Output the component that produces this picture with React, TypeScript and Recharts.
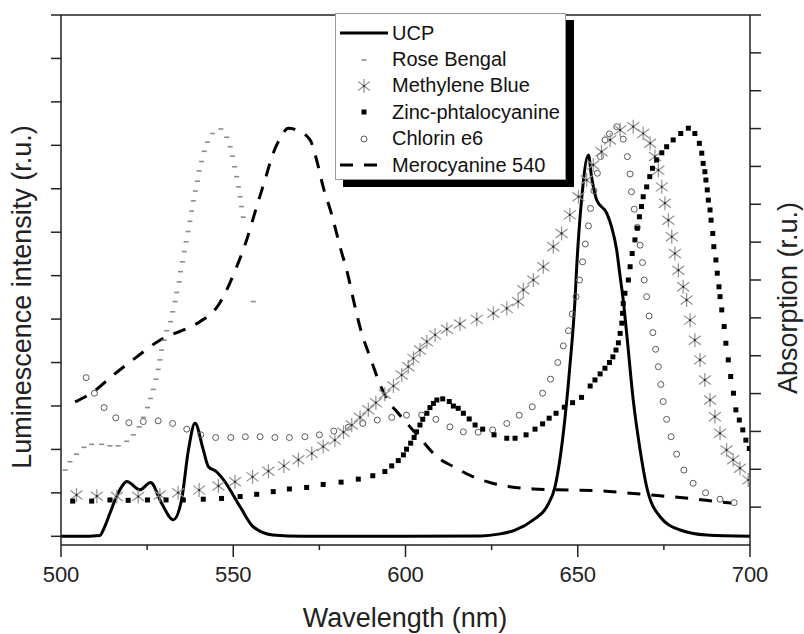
import { ComposedChart, Legend, Line, Scatter, XAxis, YAxis } from 'recharts';

// luminescence (left axis)
const ucpWl = [500, 505, 511.3, 512.3, 514.2, 515.7, 517.6, 519.1, 522.9, 526.0, 529.2, 532.6, 535.0, 537.0, 538.9, 541.3, 542.8, 545.1, 547.2, 552.0, 555.8, 561.5, 570, 600, 622, 627, 631.8, 637.1, 641.0, 643.4, 645.8, 647.7, 649.2, 649.7, 651.1, 653.1, 654.0, 655.5, 658.4, 659.8, 661.3, 662.3, 663.2, 664.2, 666.1, 668.1, 670.0, 673.9, 679.7, 687.4, 700];
const ucpVal = [0, 0, 0.02, 0.15, 0.53, 0.84, 1.14, 1.26, 1.07, 1.24, 0.76, 0.38, 0.84, 1.99, 2.6, 1.99, 1.6, 1.49, 1.3, 0.68, 0.22, 0.03, 0, 0, 0.01, 0.05, 0.14, 0.38, 0.68, 1.14, 2.37, 3.9, 5.44, 6.21, 7.74, 8.78, 8.28, 7.74, 7.44, 7.13, 6.59, 5.98, 5.44, 4.67, 3.14, 1.99, 1.14, 0.45, 0.145, 0.03, 0];

// absorption (right axis)
const roseWl = [501.2, 502.6, 504.5, 506.7, 508.9, 511.8, 514.2, 516.6, 519.1, 521.0, 522.7, 523.9, 525.1, 526.0, 526.8, 527.6, 528.2, 528.7, 529.2, 529.9, 530.7, 531.8, 532.4, 533.1, 533.6, 534.3, 534.7, 535.3, 535.8, 536.3, 536.9, 537.4, 537.9, 538.4, 539.0, 539.6, 540.1, 540.8, 541.6, 542.5, 544.0, 546.4, 548.1, 549.1, 549.8, 550.4, 551.0, 551.5, 552.0, 552.4, 552.9, 555.8];
const roseVal = [1.98, 2.2, 2.4, 2.58, 2.66, 2.66, 2.62, 2.62, 2.74, 2.91, 3.12, 3.37, 3.63, 3.87, 4.11, 4.38, 4.64, 4.89, 5.15, 5.41, 5.66, 5.9, 6.16, 6.43, 6.67, 6.95, 7.22, 7.48, 7.75, 8.01, 8.28, 8.55, 8.82, 9.09, 9.35, 9.61, 9.88, 10.13, 10.4, 10.64, 10.87, 10.99, 10.77, 10.52, 10.27, 9.99, 9.73, 9.46, 9.2, 8.94, 8.66, 6.43];

const mbWl = [504.5, 510.4, 516.2, 522.4, 528.7, 534.0, 540.1, 545.7, 550.5, 555.6, 560.2, 564.7, 568.9, 572.8, 576.1, 579.5, 582.0, 584.4, 586.8, 589.2, 591.4, 594.0, 596.5, 598.9, 600.8, 602.3, 604.2, 606.2, 608.6, 612.0, 615.8, 620.7, 625.5, 629.4, 632.7, 634.2, 637.1, 640.0, 642.9, 645.3, 647.7, 650.2, 652.6, 654.5, 656.9, 659.4, 662.3, 666.1, 669.0, 671.0, 672.4, 673.4, 674.4, 675.3, 676.3, 677.3, 678.2, 679.2, 680.6, 681.6, 682.6, 684.0, 685.5, 686.9, 688.4, 689.8, 691.3, 693.2, 695.1, 697.1, 699.5];
const mbVal = [1.32, 1.29, 1.28, 1.28, 1.32, 1.38, 1.45, 1.56, 1.67, 1.8, 1.95, 2.09, 2.25, 2.42, 2.6, 2.77, 2.98, 3.17, 3.37, 3.57, 3.76, 3.98, 4.2, 4.49, 4.71, 4.93, 5.15, 5.37, 5.55, 5.7, 5.84, 5.96, 6.12, 6.25, 6.43, 6.74, 7.0, 7.35, 7.88, 8.23, 8.72, 9.2, 9.64, 10.04, 10.39, 10.7, 10.96, 11.05, 10.87, 10.61, 10.26, 9.9, 9.46, 9.03, 8.58, 8.14, 7.7, 7.26, 6.82, 6.47, 5.94, 5.41, 4.89, 4.36, 3.83, 3.39, 2.95, 2.51, 2.25, 2.03, 1.72];

const zincWl = [503.4, 508.9, 514.2, 519.5, 525.1, 530.5, 535.5, 541.3, 546.6, 552.0, 556.8, 561.6, 566.3, 571.3, 576.1, 581.3, 586.3, 590.5, 594.0, 596.0, 597.9, 599.4, 600.3, 601.5, 602.5, 603.2, 604.2, 605.0, 606.2, 607.1, 608.1, 609.1, 610.8, 612.7, 613.9, 615.3, 616.8, 618.5, 620.2, 622.4, 625.7, 629.4, 631.8, 635.0, 637.6, 639.8, 641.7, 643.7, 646.1, 648.5, 651.1, 653.6, 655.0, 656.5, 657.9, 659.2, 660.2, 661.1, 661.8, 662.3, 662.8, 663.0, 663.2, 663.7, 664.7, 665.2, 665.8, 666.6, 667.3, 667.9, 668.5, 669.0, 670.0, 670.9, 671.7, 672.9, 674.4, 675.8, 677.7, 679.9, 682.1, 684.0, 685.3, 686.0, 686.4, 686.9, 687.2, 687.6, 687.9, 688.4, 688.7, 689.2, 689.5, 690.1, 690.5, 691.0, 691.3, 691.8, 692.5, 693.0, 693.7, 694.4, 695.2, 695.9, 696.9, 697.9, 698.8, 699.8];
const zincVal = [1.16, 1.16, 1.19, 1.18, 1.19, 1.19, 1.19, 1.21, 1.23, 1.28, 1.34, 1.41, 1.48, 1.52, 1.6, 1.66, 1.74, 1.83, 1.94, 2.09, 2.23, 2.38, 2.53, 2.69, 2.84, 2.99, 3.17, 3.32, 3.48, 3.63, 3.74, 3.83, 3.86, 3.79, 3.67, 3.61, 3.48, 3.33, 3.17, 3.06, 2.91, 2.82, 2.82, 2.91, 3.06, 3.2, 3.35, 3.48, 3.64, 3.76, 3.9, 4.2, 4.36, 4.52, 4.67, 4.82, 4.97, 5.15, 5.34, 5.59, 5.86, 6.12, 6.38, 6.65, 7.0, 7.35, 7.7, 8.06, 8.37, 8.67, 8.94, 9.2, 9.46, 9.73, 9.95, 10.17, 10.36, 10.52, 10.7, 10.87, 11.01, 10.87, 10.61, 10.35, 10.08, 9.86, 9.64, 9.38, 9.11, 8.85, 8.58, 8.23, 7.88, 7.53, 7.18, 6.82, 6.56, 6.21, 5.77, 5.33, 4.89, 4.45, 4.01, 3.57, 3.3, 3.04, 2.77, 2.55];

const chlorinWl = [507.3, 509.7, 512.5, 515.9, 519.7, 523.9, 528.2, 532.4, 536.5, 540.6, 544.9, 549.3, 553.5, 557.8, 562.1, 566.3, 570.8, 575.0, 579.2, 583.4, 587.6, 591.8, 596.0, 600.3, 604.7, 608.8, 612.9, 616.8, 621.1, 625.3, 629.4, 633.0, 636.8, 639.8, 642.1, 644.2, 645.8, 647.3, 648.4, 649.5, 650.5, 651.4, 652.2, 653.1, 653.7, 654.7, 655.7, 656.6, 657.9, 659.2, 661.3, 663.2, 664.4, 665.2, 665.6, 666.4, 667.3, 668.1, 668.8, 669.3, 670.0, 670.7, 671.8, 672.6, 673.4, 674.1, 674.8, 675.8, 677.1, 678.7, 680.8, 683.5, 687.1, 691.3, 695.4];
const chlorinVal = [4.42, 4.01, 3.63, 3.36, 3.23, 3.26, 3.28, 3.21, 3.06, 2.91, 2.84, 2.84, 2.86, 2.86, 2.84, 2.84, 2.86, 2.91, 3.01, 3.11, 3.21, 3.3, 3.37, 3.43, 3.43, 3.32, 3.12, 2.99, 2.98, 3.04, 3.21, 3.43, 3.65, 4.01, 4.38, 4.82, 5.26, 5.66, 6.1, 6.56, 7.0, 7.48, 7.95, 8.43, 8.89, 9.36, 9.82, 10.26, 10.7, 10.86, 11.05, 10.72, 10.26, 9.8, 9.33, 8.87, 8.39, 7.92, 7.46, 7.0, 6.56, 6.05, 5.61, 5.17, 4.71, 4.24, 3.79, 3.32, 2.86, 2.4, 1.98, 1.63, 1.38, 1.21, 1.12];

const meroWl = [504.1, 509.4, 515.2, 522.0, 528.7, 536.5, 540.3, 545.7, 547.1, 551.0, 553.9, 556.8, 559.2, 561.6, 563.6, 566.0, 567.9, 572.3, 574.2, 576.1, 578.6, 581.0, 583.4, 584.9, 587.3, 589.7, 592.1, 594.5, 597.9, 601.3, 604.7, 609.1, 613.9, 619.7, 624.5, 630.3, 637.1, 647.3, 656.5, 665.2, 673.9, 682.6, 691.3, 694.5];
const meroVal = [3.78, 4.05, 4.49, 4.97, 5.41, 5.72, 5.9, 6.34, 6.56, 7.35, 8.06, 8.94, 9.64, 10.35, 10.74, 11.01, 10.98, 10.7, 10.17, 9.46, 8.72, 7.88, 7.09, 6.47, 5.59, 4.97, 4.36, 3.87, 3.48, 3.12, 2.77, 2.33, 2.07, 1.8, 1.65, 1.54, 1.48, 1.45, 1.43, 1.37, 1.3, 1.23, 1.14, 1.11];

const xTicks = [500, 525, 550, 575, 600, 625, 650, 675, 700];
const leftTicks = [0, 1, 2, 3, 4, 5, 6, 7, 8, 9, 10, 11, 12];
const rightTicks = [1, 2, 3, 4, 5, 6, 7, 8, 9, 10, 11, 12, 13, 14];

const pts = (wl: number[], val: number[]) => wl.map((x, i) => ({ x, y: val[i] }));

const AXIS = '#222';
const FONT = '"Liberation Sans", Arial, sans-serif';

const BottomTick = (props: any) => {
  const { x, y, payload } = props;
  const major = payload.value % 50 === 0;
  return (
    <g>
      <line x1={x} x2={x} y1={y} y2={y + (major ? 12 : 5)} stroke={AXIS} strokeWidth={1.5} />
      {major && (
        <text x={x} y={y + 37} textAnchor="middle" fontSize={22} fill={AXIS} fontFamily={FONT}>
          {payload.value}
        </text>
      )}
    </g>
  );
};

const TopTick = (props: any) => {
  const { x, y, payload } = props;
  const major = payload.value % 50 === 0;
  return <line x1={x} x2={x} y1={y} y2={y + (major ? 10 : 5)} stroke={AXIS} strokeWidth={1.5} />;
};

const Dash = ({ cx, cy }: any) => (
  <line x1={cx - 2.5} x2={cx + 2.5} y1={cy} y2={cy} stroke="#8c8c8c" strokeWidth={1.6} />
);

const Star = ({ cx, cy }: any) => (
  <g stroke="#909090" strokeWidth={1.2}>
    <line x1={cx} x2={cx} y1={cy - 7} y2={cy + 7} />
    <line x1={cx - 6} x2={cx + 6} y1={cy - 4.5} y2={cy + 4.5} />
    <line x1={cx - 6} x2={cx + 6} y1={cy + 4.5} y2={cy - 4.5} />
    <circle cx={cx} cy={cy} r={1.1} fill="#222" stroke="none" />
  </g>
);

const Square = ({ cx, cy }: any) => <rect x={cx - 2.5} y={cy - 2.5} width={5} height={5} fill="#000" />;

const Ring = ({ cx, cy }: any) => (
  <circle cx={cx} cy={cy} r={3} fill="none" stroke="#5a5a5a" strokeWidth={1} />
);

const legendItems = [
  { name: 'UCP', kind: 'line' },
  { name: 'Rose Bengal', kind: 'dash' },
  { name: 'Methylene Blue', kind: 'star' },
  { name: 'Zinc-phtalocyanine', kind: 'square' },
  { name: 'Chlorin e6', kind: 'ring' },
  { name: 'Merocyanine 540', kind: 'dashed' },
];

const LegendSymbol = ({ kind }: { kind: string }) => {
  const cy = 13;
  switch (kind) {
    case 'line':
      return <line x1={4} x2={52} y1={cy} y2={cy} stroke="#000" strokeWidth={3} />;
    case 'dash':
      return <Dash cx={28} cy={cy} />;
    case 'star':
      return <Star cx={28} cy={cy} />;
    case 'square':
      return <Square cx={28} cy={cy} />;
    case 'ring':
      return <Ring cx={28} cy={cy} />;
    default:
      return <line x1={4} x2={44} y1={cy} y2={cy} stroke="#000" strokeWidth={3} strokeDasharray="13 11" />;
  }
};

const renderLegend = () => (
  <div
    style={{
      width: 229,
      height: 165,
      boxSizing: 'content-box',
      border: '1px solid #9a9a9a',
      background: '#fff',
      boxShadow: '8px 7px 0 #000',
      paddingTop: 0,
      fontFamily: FONT,
      fontSize: 20,
      color: '#111',
    }}
  >
    <div style={{ height: 6 }} />
    {legendItems.map((it) => (
      <div key={it.name} style={{ display: 'flex', alignItems: 'center', height: 26.4 }}>
        <svg width={56} height={26} style={{ flex: 'none' }}>
          <LegendSymbol kind={it.kind} />
        </svg>
        <span style={{ whiteSpace: 'nowrap' }}>{it.name}</span>
      </div>
    ))}
  </div>
);

const titleStyle: any = {
  position: 'absolute',
  fontFamily: FONT,
  fontSize: 27,
  color: '#222',
  whiteSpace: 'nowrap',
  lineHeight: '27px',
};

export default function App() {
  return (
    <div style={{ position: 'absolute', left: 0, top: 0, width: 804, height: 634, background: '#fff' }}>
      <ComposedChart width={804} height={634} margin={{ top: 14, right: 43, bottom: 59, left: 51 }}>
        <XAxis
          xAxisId="b"
          dataKey="x"
          type="number"
          domain={[500, 700]}
          ticks={xTicks}
          allowDataOverflow
          height={30}
          tickSize={0}
          tickMargin={0}
          tickLine={false}
          tick={BottomTick}
          axisLine={{ stroke: AXIS, strokeWidth: 1.5 }}
        />
        <XAxis
          xAxisId="t"
          orientation="top"
          type="number"
          domain={[500, 700]}
          ticks={xTicks}
          allowDataOverflow
          height={1}
          tickSize={0}
          tickMargin={0}
          tickLine={false}
          tick={TopTick}
          axisLine={{ stroke: AXIS, strokeWidth: 1.5 }}
        />
        <YAxis
          yAxisId="l"
          dataKey="y"
          type="number"
          domain={[-0.2, 12]}
          ticks={leftTicks}
          allowDataOverflow
          width={10}
          tickSize={10}
          tickFormatter={() => ''}
          tickLine={{ stroke: AXIS, strokeWidth: 1.5 }}
          axisLine={{ stroke: AXIS, strokeWidth: 1.5 }}
        />
        <YAxis
          yAxisId="r"
          orientation="right"
          dataKey="y"
          type="number"
          domain={[0, 14]}
          ticks={rightTicks}
          allowDataOverflow
          width={11}
          tickSize={11}
          tickFormatter={() => ''}
          tickLine={{ stroke: AXIS, strokeWidth: 1.5 }}
          axisLine={{ stroke: AXIS, strokeWidth: 1.5 }}
        />
        <Legend
          layout="vertical"
          align="center"
          verticalAlign="middle"
          content={renderLegend}
          wrapperStyle={{ position: 'absolute', left: 335, top: 13, width: 231, height: 177 }}
        />
        <Line
          xAxisId="b"
          yAxisId="r"
          data={pts(meroWl, meroVal)}
          dataKey="y"
          type="monotone"
          stroke="#000"
          strokeWidth={3}
          strokeDasharray="13 11"
          dot={false}
          isAnimationActive={false}
          name="Merocyanine 540"
        />
        <Scatter
          xAxisId="b"
          yAxisId="r"
          data={pts(roseWl, roseVal)}
          shape={Dash}
          isAnimationActive={false}
          name="Rose Bengal"
        />
        <Scatter
          xAxisId="b"
          yAxisId="r"
          data={pts(chlorinWl, chlorinVal)}
          shape={Ring}
          isAnimationActive={false}
          name="Chlorin e6"
        />
        <Scatter
          xAxisId="b"
          yAxisId="r"
          data={pts(mbWl, mbVal)}
          shape={Star}
          isAnimationActive={false}
          name="Methylene Blue"
        />
        <Scatter
          xAxisId="b"
          yAxisId="r"
          data={pts(zincWl, zincVal)}
          shape={Square}
          isAnimationActive={false}
          name="Zinc-phtalocyanine"
        />
        <Line
          xAxisId="b"
          yAxisId="l"
          data={pts(ucpWl, ucpVal)}
          dataKey="y"
          type="monotone"
          stroke="#000"
          strokeWidth={3}
          dot={false}
          isAnimationActive={false}
          name="UCP"
        />
      </ComposedChart>
      <div style={{ ...titleStyle, left: 405, top: 605, transform: 'translateX(-50%)' }}>Wavelength (nm)</div>
      <div style={{ ...titleStyle, left: 22, top: 297, transform: 'translate(-50%, -50%) rotate(-90deg)' }}>
        Luminescence intensity (r.u.)
      </div>
      <div style={{ ...titleStyle, left: 788, top: 298, transform: 'translate(-50%, -50%) rotate(-90deg)' }}>
        Absorption (r.u.)
      </div>
    </div>
  );
}
